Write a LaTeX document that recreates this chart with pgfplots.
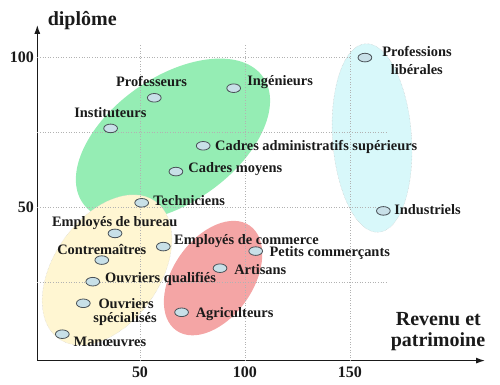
\documentclass[border=0pt]{standalone}
\usepackage{fontspec}
\setmainfont{Liberation Serif}
\usepackage{pgfplots}
\usepackage{pgfplotstable}
\pgfplotsset{compat=1.18}
\usetikzlibrary{arrows.meta}
\definecolor{gfill}{HTML}{95EDB4}
\definecolor{yfill}{HTML}{FFF6D2}
\definecolor{rfill}{HTML}{F4A5A5}
\definecolor{cfill}{HTML}{D8F8FA}
\definecolor{mfill}{HTML}{C8E0E8}
\definecolor{mdraw}{HTML}{4A5258}
\definecolor{txt}{HTML}{1A1A1A}
\pgfplotstableread{
x y
56.8 86.5
94.6 89.7
36.0 76.3
80.1 70.5
67.1 61.9
50.8 51.5
38.1 41.3
61.1 36.9
31.8 32.4
27.5 25.2
23.0 18.0
13.0 7.7
69.8 15.0
88.1 29.7
105.1 35.4
165.9 48.8
157.1 99.9
}\pts
\tikzset{lab/.style={font=\bfseries\fontsize{14.4}{15}\selectfont, inner sep=0pt, text=txt}}
\begin{document}
\begin{tikzpicture}
\begin{axis}[
  x=2.1pt, y=3pt,
  xmin=1.1, xmax=214.3, ymin=-1.1, ymax=110.8,
  axis lines=left,
  axis line style={line width=1.2pt, draw=txt, -{Latex[length=9pt,width=6pt]}},
  xtick={50,100,150}, ytick={50,100},
  major tick length=0pt,
  tick label style={font=\bfseries\fontsize{16}{16}\selectfont, text=txt},
  xticklabel style={yshift=-3pt},
  /pgf/number format/assume math mode=true,
  clip=false,
]
% groups
\fill[gfill, rotate around={35:(axis cs:65.7,72.4)}] (axis cs:65.7,72.4) ellipse [x radius=110pt, y radius=63pt];
\filldraw[fill=yfill, draw=gray!40, densely dotted, rotate around={55:(axis cs:34.3,29.1)}] (axis cs:34.3,29.1) ellipse [x radius=84pt, y radius=53pt];
\fill[rfill, rotate around={55:(axis cs:84.8,26.4)}] (axis cs:84.8,26.4) ellipse [x radius=64pt, y radius=40pt];
\filldraw[fill=cfill, draw=gray!50, densely dotted, rotate around={4:(axis cs:160.5,73.1)}] (axis cs:160.5,73.1) ellipse [x radius=39.5pt, y radius=94.5pt];
% grid
\draw[gray!60, dotted, line width=0.6pt] (axis cs:50,-1.1) -- (axis cs:50,104.4);
\draw[gray!60, dotted, line width=0.6pt] (axis cs:100,-1.1) -- (axis cs:100,104.4);
\draw[gray!60, dotted, line width=0.6pt] (axis cs:150,-1.1) -- (axis cs:150,104.4);
\draw[gray!60, dotted, line width=0.6pt] (axis cs:1.1,100) -- (axis cs:150,100);
\draw[gray!60, dotted, line width=0.6pt] (axis cs:1.1,75) -- (axis cs:168,75);
\draw[gray!60, dotted, line width=0.6pt] (axis cs:1.1,50) -- (axis cs:168,50);
\draw[gray!60, dotted, line width=0.6pt] (axis cs:1.1,25) -- (axis cs:168,25);
% points
\addplot[only marks, mark=*, mark size=4.3pt, mark options={xscale=1.6, fill=mfill, draw=mdraw, line width=0.8pt}] table[x=x,y=y] {\pts};
% labels
\node[lab, anchor=center] at (axis cs:55.5,91.8) {Professeurs};
\node[lab, anchor=west] at (axis cs:101.0,91.8) {Ingénieurs};
\node[lab, anchor=center] at (axis cs:35.9,81.5) {Instituteurs};
\node[lab, anchor=west] at (axis cs:85.7,70.0) {Cadres administratifs supérieurs};
\node[lab, anchor=west] at (axis cs:73.0,62.8) {Cadres moyens};
\node[lab, anchor=west] at (axis cs:56.3,52.4) {Techniciens};
\node[lab, anchor=center] at (axis cs:38.0,44.9) {Employés de bureau};
\node[lab, anchor=west] at (axis cs:66.2,38.9) {Employés de commerce};
\node[lab, anchor=center] at (axis cs:31.8,35.8) {Contremaîtres};
\node[lab, anchor=west] at (axis cs:33.3,26.0) {Ouvriers qualifiés};
\node[lab, anchor=base] at (axis cs:43.4,16.3) {Ouvriers};
\node[lab, anchor=base] at (axis cs:42.9,11.6) {spécialisés};
\node[lab, anchor=center] at (axis cs:35.7,5.2) {Manœuvres};
\node[lab, anchor=west] at (axis cs:76.5,14.4) {Agriculteurs};
\node[lab, anchor=west] at (axis cs:94.8,29.1) {Artisans};
\node[lab, anchor=west] at (axis cs:111.6,34.9) {Petits commerçants};
\node[lab, anchor=west] at (axis cs:171.0,49.1) {Industriels};
\node[lab, anchor=center] at (axis cs:181.9,101.9) {Professions};
\node[lab, anchor=center] at (axis cs:181.8,95.8) {libérales};
\node[lab, font=\bfseries\fontsize{20}{22}\selectfont, anchor=west] at (axis cs:6.0,112.4) {diplôme};
\node[lab, font=\bfseries\fontsize{20}{22}\selectfont, anchor=center] at (axis cs:192.1,12.8) {Revenu et};
\node[lab, font=\bfseries\fontsize{20}{22}\selectfont, anchor=center] at (axis cs:191.9,5.1) {patrimoine};
% page frame
\path (axis cs:-16.667,-9.233) rectangle (axis cs:221.43,119.1);
\end{axis}
\end{tikzpicture}
\end{document}
